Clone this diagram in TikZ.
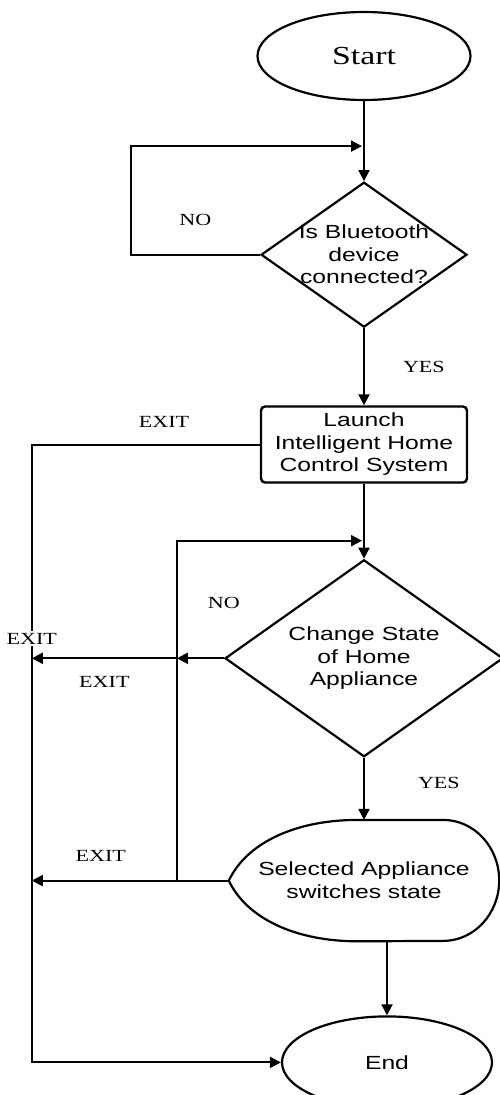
\documentclass[tikz,border=0pt]{standalone}
\usepackage{fontspec}
\newfontfamily\flowsans{Liberation Sans}[FakeStretch=1.3]
\newfontfamily\flowserif{Liberation Serif}[FakeStretch=1.3]
\usetikzlibrary{calc, positioning, shapes.geometric, arrows.meta}
\tikzset{
    terminal/.style={draw, ellipse, line width=2.2pt, inner sep=0pt, minimum width=213pt, minimum height=88pt},
    decision/.style={draw, diamond, line width=2.2pt, inner sep=0pt},
    process/.style={draw, rectangle, rounded corners=4pt, line width=2.4pt, minimum width=206pt, minimum height=76pt, inner sep=2pt, align=center, font=\flowsans\fontsize{19}{22.5}\selectfont},
    display/.style={rectangle, minimum width=270pt, minimum height=121pt, inner sep=0pt, align=center, font=\flowsans\fontsize{19}{23}\selectfont},
    caption/.style={align=center, inner sep=0pt, font=\flowsans\fontsize{19}{22.5}\selectfont},
    outline/.style={line width=2.2pt},
    flow/.style={-{Triangle[length=11pt,width=11pt]}, line width=2pt},
    tag/.style={inner sep=0pt, font=\flowserif\fontsize{17}{17}\selectfont} }

\begin{document}
\begin{tikzpicture}
    \useasboundingbox (0,0) rectangle (500pt,-1095pt);
    \node[terminal, font=\flowserif\fontsize{26}{26}\selectfont] (start) at (364pt,-56pt) {Start};
    \node[decision, minimum width=206pt, minimum height=145pt, below=80pt of start] (bt) {};
    \node[caption] (btq) at (bt) {Is Bluetooth\\device\\connected?};
    \node[process, below=77pt of bt] (launch) {Launch\\Intelligent Home\\Control System};
    \node[decision, minimum width=278pt, minimum height=197pt, below=75pt of launch] (chg) {};
    \node[caption] (chgq) at (chg) {Change State\\of Home\\Appliance};
    \node[display, below=62pt of chg] (sel) {Selected Appliance\\switches state};
    \node[terminal, minimum width=210pt, minimum height=92pt, font=\flowsans\fontsize{19}{19}\selectfont, below=74pt of sel, xshift=23pt] (end) {End};
    % ----
    \coordinate (j1) at ([yshift=-45pt]start.south);
    \coordinate (j2) at ([yshift=-57pt]launch.south);
    \coordinate (rail) at ([xshift=-228pt]launch.west);
    \coordinate (loopx) at ([xshift=-47pt]chg.west);
    % ----
    \draw[outline] (sel.west) .. controls +(18pt,38pt) and +(-62pt,0) .. ($(sel.north west)+(129pt,0)$)
        -- ($(sel.north east)+(-56pt,0)$) arc[start angle=90, end angle=-90, x radius=56pt, y radius=60.5pt]
        -- ($(sel.south west)+(129pt,0)$) .. controls +(-62pt,0) and +(18pt,-38pt) .. (sel.west) -- cycle;
    % ----
    \draw[flow] (start) -- (bt);
    \draw[flow] (bt) -- node[tag, right=38pt] {YES} (launch);
    \draw[flow] (launch) -- (chg);
    \draw[flow] (chg) -- node[tag, pos=0.4, right=53pt] {YES} (sel);
    \draw[flow] (end.north |- sel.south) -- (end.north);

    \draw[flow, shorten >=2pt] (bt.west) -- node[tag, above=28pt] {NO} ++(-129pt,0) |- (j1);

    \draw[flow] (launch.west) -- node[tag, pos=0.42, above=16pt] {EXIT} (rail) |- (end.west);

    \draw[flow] (chg.west) -- (chg.west -| loopx);
    \draw[flow] (chg.west -| loopx) -- node[tag, below=17pt] {EXIT} (chg.west -| rail);
    \draw[flow] (sel.west) -- node[tag, pos=0.65, above=18pt] {EXIT} (sel.west -| rail);
    \draw[flow, shorten >=2pt] (sel.west -| loopx) |- (j2);
    % ----
    \node[tag, fill=white, inner sep=2pt, above=12pt] (railexit) at (chg.west -| rail) {EXIT};
    \node[tag] (chgno) at ([yshift=55pt]chg.west) {NO};
\end{tikzpicture}
\end{document}
